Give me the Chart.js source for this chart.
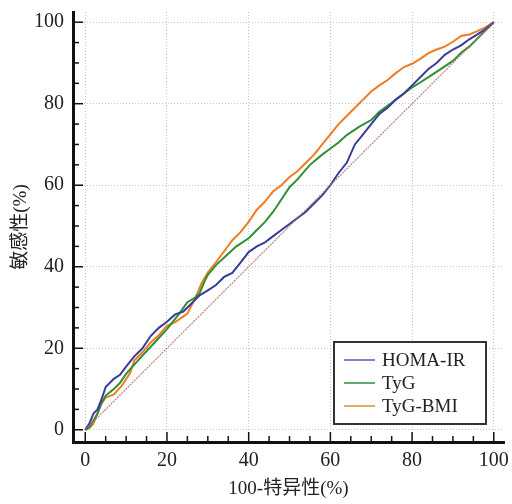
<!DOCTYPE html>
<html>
<head>
<meta charset="utf-8">
<script src="https://cdn.jsdelivr.net/npm/chart.js@4"></script>
<style>
  html, body { margin: 0; padding: 0; background: #fff; }
  #wrap { width: 512px; height: 504px; }
</style>
</head>
<body>
<div id="wrap"><canvas id="myChart" width="512" height="504"></canvas></div>
<script>
// ROC curves: [100-specificity, sensitivity]
const homaIR = [[0,0],[1,1.5],[2,4],[3,5],[4,7.5],[5,10.5],[7,12.5],[8.5,13.5],[10,15.5],[12,18],[14,20],[16,23],[18,25],[20,26.5],[22,28.3],[24,29],[26,31],[28,33],[30,34.2],[32,35.5],[34,37.5],[36,38.5],[38,41],[40,43.6],[42,45],[44,46],[46,47.5],[48,49],[50,50.5],[52,52],[54,53.5],[56,55.5],[58,57.5],[60,60],[62,63],[64,65.5],[66,70],[68,72.5],[70,75],[72,77.5],[74,79],[76,81],[78,82.5],[80,84.5],[82,86.5],[84,88.5],[86,90],[88,92],[90,93.3],[92,94.3],[94,95.8],[96,97],[98,98.3],[100,100]];
const tyg = [[0,0],[1,0.5],[2,2.3],[3,4],[4,6.5],[5,8.4],[7,10],[8.5,11.5],[10,13.7],[12,16],[14,18.2],[17,21.4],[20,24.7],[23,28.5],[25,31.3],[27,32.5],[28,33.5],[29,36],[30,38],[32,40.4],[35,43.2],[37,45],[40,47],[42,49],[44,51],[46,53.5],[48,56.5],[50,59.5],[52,61.5],[55,65],[58,67.5],[60,69],[62,70.5],[64,72.3],[67,74.3],[70,76],[72,78],[75,80.2],[78,82.5],[80,84],[82,85.2],[84,86.5],[87,88.5],[90,90.5],[92,92.5],[94,94],[96,96],[98,98],[100,100]];
const tygBmi = [[0,0],[1,0.5],[2,1.5],[3,4],[3.6,6],[5,7.9],[7,8.7],[9,10.9],[11,14],[12,17],[14,19],[16,21.4],[18,23.2],[20,25.5],[22,26.4],[25,28.5],[27,32.5],[28.5,36],[30,38.6],[32,41.1],[34,43.8],[36,46.5],[38,48.5],[40,51],[42,54],[44,56],[46,58.5],[48,60],[50,62],[52,63.5],[54,65.5],[56,67.5],[58,70],[60,72.5],[62,75],[64,77],[66,79],[68,81],[70,83],[72,84.5],[74,85.8],[76,87.5],[78,89],[80,89.8],[82,91],[84,92.4],[86,93.3],[88,94],[90,95.2],[92,96.6],[94,97],[96,97.8],[98,98.8],[100,100]];
const diagonal = [[0,0],[100,100]];
const seriesNames = ['HOMA-IR', 'TyG', 'TyG-BMI'];
const tickValues = [0, 20, 40, 60, 80, 100];

const serif = "'Liberation Serif', 'Noto Sans CJK SC', serif";
const toXY = arr => arr.map(p => ({ x: p[0], y: p[1] }));

// inward minor / major tick marks on both axes
const innerTicks = {
  id: 'innerTicks',
  afterDraw(chart) {
    const { ctx, chartArea, scales } = chart;
    ctx.save();
    ctx.strokeStyle = '#111';
    ctx.lineWidth = 1.5;
    for (let v = 0; v <= 100; v += 5) {
      const len = v % 20 === 0 ? 10 : 6;
      const px = scales.x.getPixelForValue(v);
      ctx.beginPath();
      ctx.moveTo(px, chartArea.bottom);
      ctx.lineTo(px, chartArea.bottom - len);
      ctx.stroke();
      const py = scales.y.getPixelForValue(v);
      ctx.beginPath();
      ctx.moveTo(chartArea.left, py);
      ctx.lineTo(chartArea.left + len, py);
      ctx.stroke();
    }
    ctx.restore();
  }
};

// boxed legend inside the plot, lower right
const boxLegend = {
  id: 'boxLegend',
  afterDraw(chart) {
    const { ctx } = chart;
    const colors = ['#8585bb', '#66aa70', '#dcb06a'];
    const x0 = 334, y0 = 342, w = 152, h = 82;
    ctx.save();
    ctx.fillStyle = '#fff';
    ctx.fillRect(x0, y0, w, h);
    ctx.strokeStyle = '#333';
    ctx.lineWidth = 2;
    ctx.strokeRect(x0, y0, w, h);
    ctx.font = '19px ' + serif;
    ctx.textBaseline = 'middle';
    seriesNames.forEach((name, i) => {
      const y = y0 + 18 + i * 23;
      ctx.strokeStyle = colors[i];
      ctx.lineWidth = 2;
      ctx.beginPath();
      ctx.moveTo(x0 + 10, y);
      ctx.lineTo(x0 + 41, y);
      ctx.stroke();
      ctx.fillStyle = '#222';
      ctx.fillText(name, x0 + 48, y + 1);
    });
    ctx.restore();
  }
};

const ctx = document.getElementById('myChart').getContext('2d');
const rocChart = new Chart(ctx, {
  type: 'scatter',
  data: {
    datasets: [
      { label: 'diag', data: toXY(diagonal), showLine: true, borderColor: 'rgba(190,110,110,0.9)', borderWidth: 1.2, borderDash: [2, 1], pointRadius: 0 },
      { label: seriesNames[0], data: toXY(homaIR), showLine: true, borderColor: '#3b3b9a', borderWidth: 2, pointRadius: 0 },
      { label: seriesNames[1], data: toXY(tyg), showLine: true, borderColor: '#2f8f33', borderWidth: 2, pointRadius: 0 },
      { label: seriesNames[2], data: toXY(tygBmi), showLine: true, borderColor: '#f07c22', borderWidth: 2, pointRadius: 0 }
    ]
  },
  options: {
    responsive: false,
    animation: false,
    layout: { padding: { top: 12, right: 8, left: 0, bottom: 0 } },
    plugins: { legend: { display: false }, tooltip: { enabled: false } },
    scales: {
      x: {
        type: 'linear',
        min: -3,
        max: 102.5,
        afterBuildTicks: s => { s.ticks = tickValues.map(v => ({ value: v })); },
        afterFit: s => { s.height = 62; s.paddingLeft = 0; s.paddingRight = 0; },
        grid: { color: '#c4c4c4', drawTicks: false, lineWidth: 1 },
        border: { display: true, color: '#111', width: 3, dash: [1, 2] },
        ticks: { color: '#222', font: { family: serif, size: 20 }, padding: 7, maxRotation: 0 },
        title: { display: true, text: '100-特异性(%)', color: '#222', font: { family: serif, size: 19 }, padding: { top: 5 } }
      },
      y: {
        type: 'linear',
        min: -3,
        max: 102.5,
        afterBuildTicks: s => { s.ticks = tickValues.map(v => ({ value: v })); },
        afterFit: s => { s.width = 73; s.paddingTop = 0; s.paddingBottom = 0; },
        grid: { color: '#c4c4c4', drawTicks: false, lineWidth: 1 },
        border: { display: true, color: '#111', width: 3, dash: [1, 2] },
        ticks: { color: '#222', font: { family: serif, size: 20 }, padding: 9 },
        title: { display: true, text: '敏感性(%)', color: '#222', font: { family: serif, size: 19 }, padding: { top: 10, bottom: 0 } }
      }
    }
  },
  plugins: [innerTicks, boxLegend]
});
</script>
</body>
</html>
